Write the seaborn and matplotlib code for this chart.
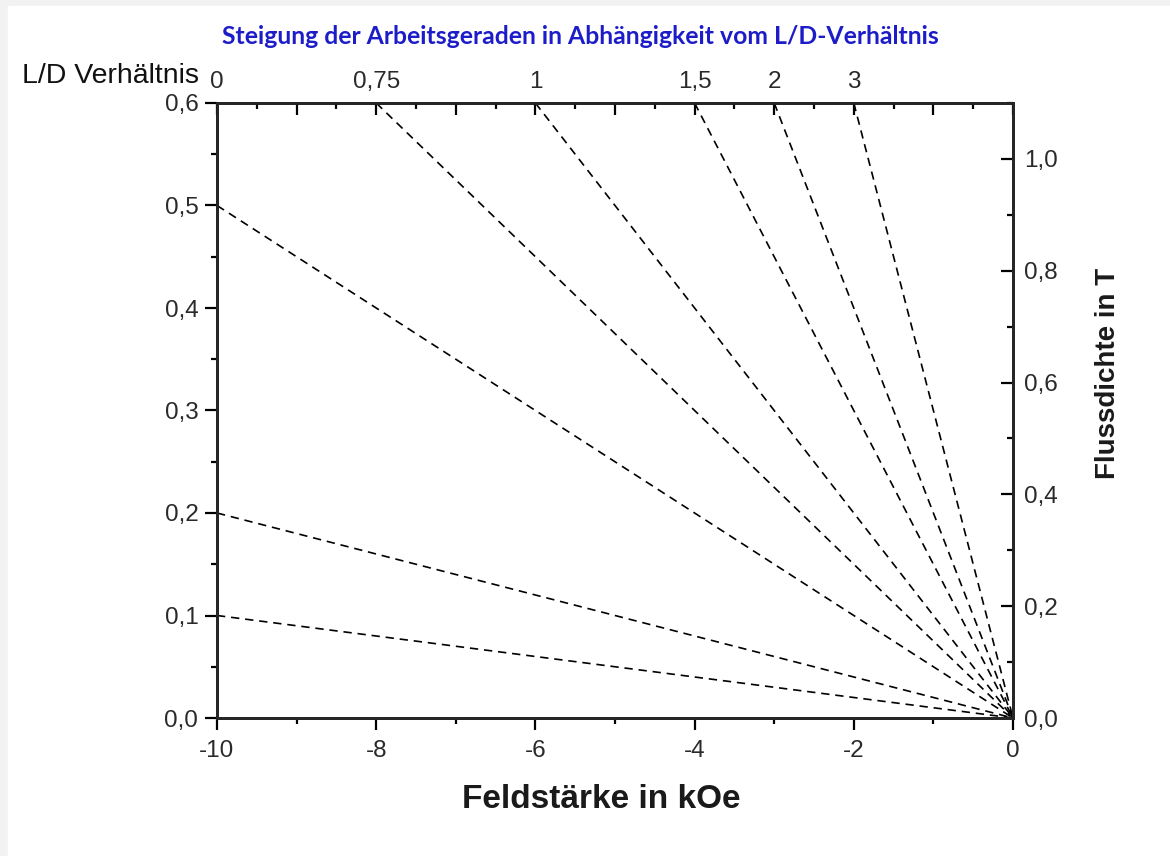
import numpy as np
import pandas as pd
import matplotlib
matplotlib.use("Agg")
import matplotlib.pyplot as plt
import seaborn as sns
from matplotlib.ticker import MultipleLocator, FixedLocator, FuncFormatter

# data: working lines from the origin to their end points
end_h = [-10, -10, -10, -8, -6, -4, -3, -2]      # kOe
end_ld = [0.1, 0.2, 0.5, 0.6, 0.6, 0.6, 0.6, 0.6]
ld_pos = [-10, -8, -6, -4, -3, -2]
ld_labels = ["0", "0,75", "1", "1,5", "2", "3"]
b_max = 1.1   # right axis upper limit (T)

rows = []
for i, (h, y) in enumerate(zip(end_h, end_ld)):
    rows.append({"line": i, "H": 0.0, "y": 0.0})
    rows.append({"line": i, "H": h, "y": y})
df = pd.DataFrame(rows)

sns.set_theme(style="ticks")
plt.rcParams["font.family"] = ["Liberation Sans", "DejaVu Sans"]
plt.rcParams["axes.unicode_minus"] = False

fig = plt.figure(figsize=(11.7, 8.56), dpi=100, facecolor="#f2f2f2")
fig.patches.append(plt.Rectangle((8 / 1170, 0), 1, 1 - 6 / 856, transform=fig.transFigure,
                                 color="white", zorder=-10))
ax = fig.add_axes([217 / 1170, 138 / 856, 796 / 1170, 615 / 856])
ax.patch.set_alpha(0)

sns.lineplot(data=df, x="H", y="y", units="line", estimator=None, color="black",
             linestyle=(0, (5, 3.5)), linewidth=1.2, ax=ax, legend=False)

ax.set_xlim(-10, 0)
ax.set_ylim(0, 0.6)
for s in ax.spines.values():
    s.set_linewidth(1.8)
    s.set_color("black")

tick_size = 17.5
dec = FuncFormatter(lambda v, p: f"{v:.1f}".replace(".", ","))
ax.xaxis.set_major_locator(MultipleLocator(2))
ax.xaxis.set_minor_locator(MultipleLocator(1))
ax.xaxis.set_major_formatter(FuncFormatter(lambda v, p: f"{v:.0f}"))
ax.yaxis.set_major_locator(MultipleLocator(0.1))
ax.yaxis.set_minor_locator(MultipleLocator(0.05))
ax.yaxis.set_major_formatter(dec)
ax.tick_params(axis="both", which="major", direction="out", length=8.5, width=1.6,
               labelsize=tick_size, color="black", labelcolor="#2a2a2a", pad=5)
ax.tick_params(axis="x", which="major", pad=7.5)
ax.tick_params(axis="both", which="minor", direction="out", length=4.5, width=1.6, color="black")
ax.tick_params(axis="x", which="both", top=False)
ax.tick_params(axis="y", which="both", right=False)
ax.set_xlabel("Feldstärke in kOe", fontsize=24, fontweight="bold", color="#1a1a1a")
ax.xaxis.set_label_coords(0.5 - 14 / 796, -66 / 615)
ax.set_ylabel("")

# right axis: flux density
ax2 = ax.twinx()
ax2.set_ylim(0, b_max)
ax2.yaxis.set_major_locator(MultipleLocator(0.2))
ax2.yaxis.set_minor_locator(MultipleLocator(0.1))
ax2.yaxis.set_major_formatter(dec)
ax2.tick_params(axis="y", which="major", direction="in", length=8.5, width=1.6,
                labelsize=tick_size, color="black", labelcolor="#2a2a2a", pad=8)
ax2.tick_params(axis="y", which="minor", direction="in", length=4.5, width=1.6, color="black")
ax2.set_ylabel("Flussdichte in T", fontsize=20, fontweight="bold", color="#1a1a1a")
ax2.yaxis.set_label_coords((1095 - 217) / 796, (718 - 373) / 615)
for s in ax2.spines.values():
    s.set_linewidth(1.8)

# top axis: L/D ratio
ax3 = ax.twiny()
ax3.set_xlim(-10, 0)
ax3.xaxis.set_major_locator(FixedLocator(np.arange(-10, 0.5, 1)))
ax3.xaxis.set_minor_locator(MultipleLocator(0.5))
lab = dict(zip(ld_pos, ld_labels))
ax3.xaxis.set_major_formatter(FuncFormatter(lambda v, p: lab.get(int(round(v)), "")))
ax3.tick_params(axis="x", which="major", direction="in", length=8.5, width=1.6,
                labelsize=tick_size, color="black", labelcolor="#2a2a2a", pad=7.5)
ax3.tick_params(axis="x", which="minor", direction="in", length=4.5, width=1.6, color="black")
for s in ax3.spines.values():
    s.set_linewidth(1.8)

fig.text(22 / 1170, 1 - 76 / 856, "L/D Verhältnis", fontsize=20.5, va="center", ha="left",
         color="#111111")
fig.text(580 / 1170, 1 - 36 / 856, "Steigung der Arbeitsgeraden in Abhängigkeit vom L/D-Verhältnis",
         fontsize=17.8, fontweight="bold", color="#1c1cc8", ha="center", va="center",
         family=["Lato", "DejaVu Sans"])

fig.savefig("out.png", dpi=100, facecolor=fig.get_facecolor())
